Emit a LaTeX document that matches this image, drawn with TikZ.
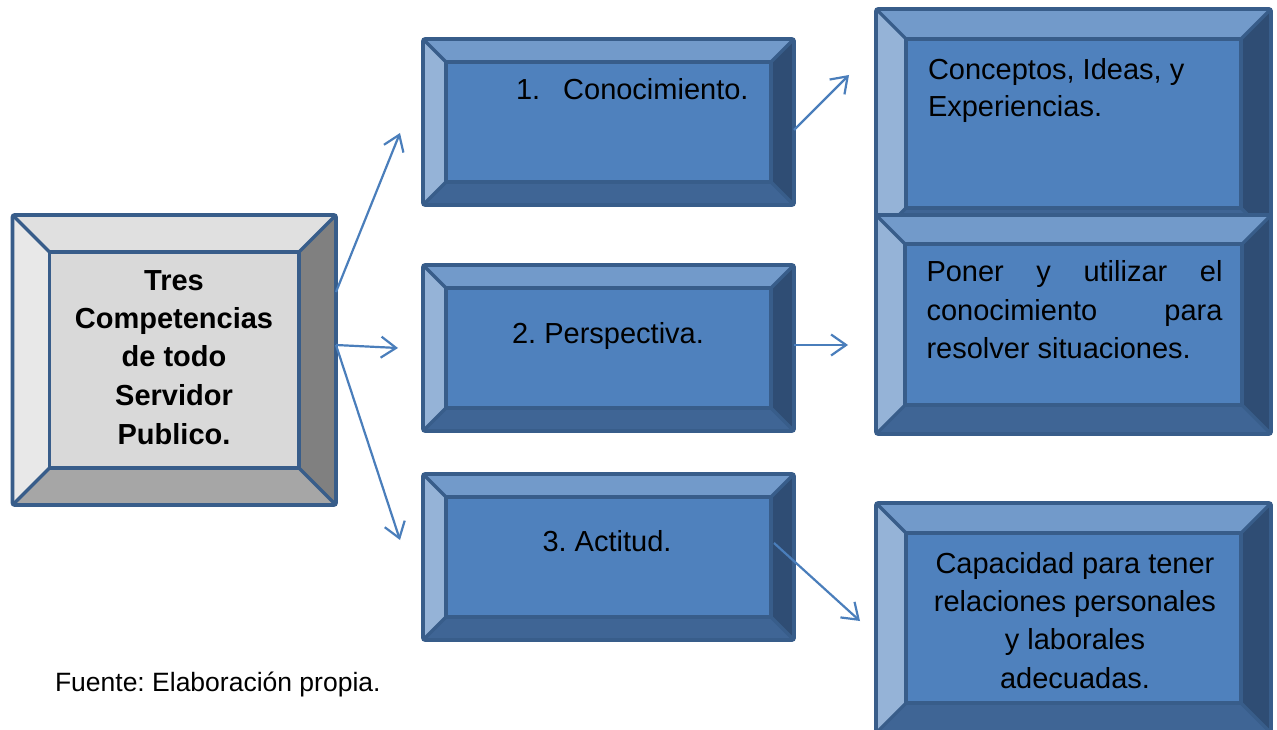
\documentclass[tikz,border=0pt]{standalone}
\usepackage{fontspec}
\setmainfont{Liberation Sans}
\frenchspacing
\usetikzlibrary{arrows.meta}
\definecolor{bord}{HTML}{385D8A}
\definecolor{arrowc}{HTML}{4A7EBB}
\definecolor{bmidc}{HTML}{4F81BD}
\definecolor{btopc}{HTML}{729ACA}
\definecolor{bleftc}{HTML}{95B3D7}
\definecolor{brightc}{HTML}{2F4D74}
\definecolor{bbotc}{HTML}{3F6595}
\definecolor{gmidc}{HTML}{D9D9D9}
\definecolor{gtopc}{HTML}{E0E0E0}
\definecolor{gleftc}{HTML}{E8E8E8}
\definecolor{grightc}{HTML}{808080}
\definecolor{gbotc}{HTML}{A6A6A6}
\tikzset{
  bmid/.style={fill=bmidc}, btop/.style={fill=btopc}, bleft/.style={fill=bleftc},
  bright/.style={fill=brightc}, bbot/.style={fill=bbotc},
  gmid/.style={fill=gmidc}, gtop/.style={fill=gtopc}, gleft/.style={fill=gleftc},
  gright/.style={fill=grightc}, gbot/.style={fill=gbotc},
  inline/.style={draw=bord, line width=3.2pt, line join=round},
  outline/.style={draw=bord, line width=3.6pt, rounded corners=2pt},
  conn/.style={draw=arrowc, line width=2.2pt, -{Straight Barb[length=15pt,width=21pt]}},
  txt/.style={inner sep=0pt, outer sep=0pt, text=black}
}
\newcommand\bx[1]{\fontsize{29pt}{#1}\selectfont\frenchspacing}
\newcommand\bevbox[7]{%
  \pgfmathsetmacro\bvw{#4-#2}\pgfmathsetmacro\bvh{#5-#3}%
  \node[inner sep=0pt, outer sep=0pt, minimum width=\bvw pt, minimum height=\bvh pt] (#1) at ({(#2+#4)/2},{(#3+#5)/2}) {};
  \coordinate (#1-a) at (#2,#3);
  \coordinate (#1-b) at (#4,#3);
  \coordinate (#1-c) at (#4,#5);
  \coordinate (#1-d) at (#2,#5);
  \coordinate (#1-ia) at ({#2+#6},{#3+#6});
  \coordinate (#1-ib) at ({#4-#6},{#3+#6});
  \coordinate (#1-ic) at ({#4-#6},{#5-#6});
  \coordinate (#1-id) at ({#2+#6},{#5-#6});
  \path[#7mid] (#1-ia) rectangle (#1-ic);
  \path[#7top] (#1-a) -- (#1-b) -- (#1-ib) -- (#1-ia) -- cycle;
  \path[#7right] (#1-b) -- (#1-c) -- (#1-ic) -- (#1-ib) -- cycle;
  \path[#7bot] (#1-c) -- (#1-d) -- (#1-id) -- (#1-ic) -- cycle;
  \path[#7left] (#1-d) -- (#1-a) -- (#1-ia) -- (#1-id) -- cycle;
  \path[inline] (#1-ia) rectangle (#1-ic);
  \path[inline] (#1-a) -- (#1-ia) (#1-b) -- (#1-ib) (#1-c) -- (#1-ic) (#1-d) -- (#1-id);
  \path[outline] (#1-a) rectangle (#1-c);
}
\begin{document}
\begin{tikzpicture}[x=1pt,y=-1pt]
\useasboundingbox (0,0) rectangle (1277,730);
\clip (0,0) rectangle (1277,730);
\fill[white] (0,0) rectangle (1277,730);

% boxes
\bevbox{srv}{12.5}{215}{336}{505}{37}{g}
\bevbox{k1}{423}{39}{794}{205}{23}{b}
\bevbox{k2}{423}{265}{794}{431}{23}{b}
\bevbox{k3}{423}{474}{794}{640}{23}{b}
\bevbox{d1}{876}{9}{1271}{238}{30}{b}
\bevbox{d2}{876}{215}{1271}{434}{29}{b}
\bevbox{d3}{876}{503}{1271}{733}{30}{b}

% texts
\node[txt, anchor=base] (tsrv) at (174,290) {\parbox[t]{250pt}{\bx{38.5pt}\centering\bfseries Tres\\Competencias\\de todo\\Servidor\\Publico.}};
\node[txt, anchor=base west] (tk1) at (516,100) {\bx{38pt}1.\hspace{23pt}Conocimiento.};
\node[txt, anchor=base] (tk2) at (608,343) {\bx{38pt}2. Perspectiva.};
\node[txt, anchor=base] (tk3) at (607,551) {\bx{38pt}3. Actitud.};
\node[txt, anchor=base west] (td1) at (928,80) {\parbox[t]{320pt}{\bx{36.7pt}\raggedright Conceptos, Ideas, y\\Experiencias.}};
\node[txt, anchor=base west] (td2) at (926.5,281.7) {\parbox[t]{300pt}{\bx{38.3pt}\raggedright\makebox[296pt][s]{Poner y utilizar el}\\\makebox[296pt][s]{conocimiento para}\\resolver situaciones.}};
\node[txt, anchor=base] (td3) at (1075,573.3) {\parbox[t]{320pt}{\bx{38.3pt}\centering Capacidad para tener\\relaciones personales\\y laborales\\adecuadas.}};
\node[txt, anchor=base west, font=\fontsize{26.5pt}{32pt}\selectfont\frenchspacing] (fuente) at (55,691.5) {Fuente: Elaboración propia.};

% connectors
\draw[conn] ([yshift=68pt]srv.east) -- ([xshift=-23pt,yshift=-11pt]k1.west);
\draw[conn] ([yshift=15pt]srv.east) -- ([xshift=-25pt]k2.west);
\draw[conn] ([yshift=15pt]srv.east) -- ([xshift=-23pt,yshift=17pt]k3.west);
\draw[conn] ([yshift=-8pt]k1.east) -- ([xshift=-27pt,yshift=48.5pt]d1.west);
\draw[conn] ([yshift=3pt]k2.east) -- ([xshift=-28pt,yshift=-20.5pt]d2.west);
\draw[conn] ([xshift=-20pt,yshift=14pt]k3.east) -- ([xshift=-16pt,yshift=-3pt]d3.west);
\end{tikzpicture}
\end{document}
